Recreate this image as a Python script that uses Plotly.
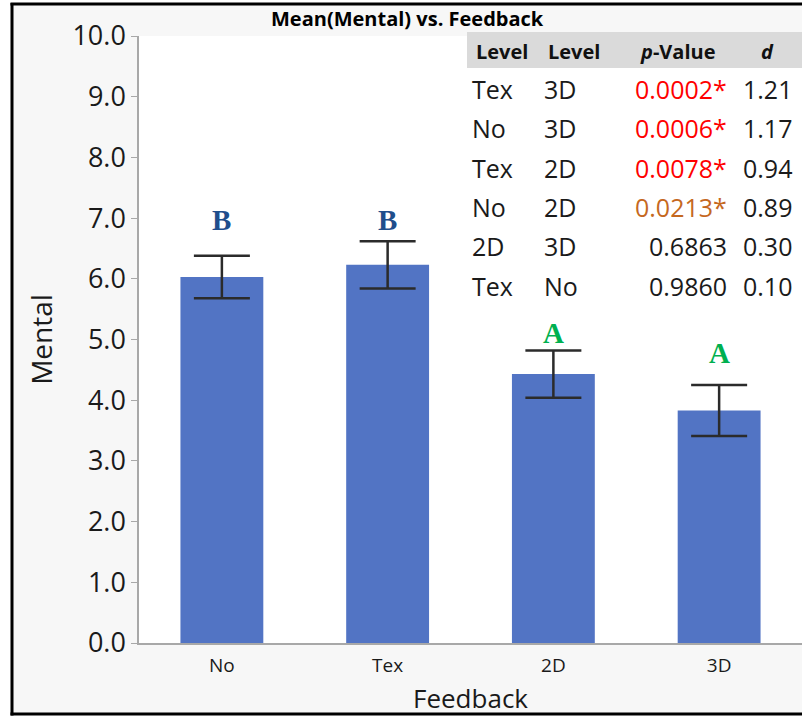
import plotly.graph_objects as go

# ---- data ----
categories = ["No", "Tex", "2D", "3D"]
mean_mental = [6.03, 6.23, 4.43, 3.83]
err_mental = [0.35, 0.39, 0.39, 0.42]
group_letters = ["B", "B", "A", "A"]
letter_y = [6.97, 6.97, 5.11, 4.78]
letter_colors = ["#1F4E8C", "#1F4E8C", "#00B050", "#00B050"]

tbl_level1 = ["Tex", "No", "Tex", "No", "2D", "Tex"]
tbl_level2 = ["3D", "3D", "2D", "2D", "3D", "No"]
tbl_p = [0.0002, 0.0006, 0.0078, 0.0213, 0.6863, 0.9860]
tbl_d = [1.21, 1.17, 0.94, 0.89, 0.30, 0.10]

y_ticks = [0, 1, 2, 3, 4, 5, 6, 7, 8, 9, 10]

# ---- layout geometry (pixels) ----
W, H = 802, 716
L, R, T, B = 139, 802, 36, 643
def px(x):
    return (x - L) / (R - L)
def py(y):
    return (B - y) / (B - T)

FONT = "Open Sans"

fig = go.Figure()
fig.add_trace(go.Bar(
    x=categories, y=mean_mental, width=0.5,
    marker=dict(color="#5274C4", line=dict(width=0)),
    error_y=dict(type="data", array=err_mental, visible=True,
                 color="#2B2B2B", thickness=2.5, width=28),
    showlegend=False, hoverinfo="x+y",
))

def band(x0, x1, y0, y1, color, layer="above"):
    return dict(type="rect", xref="paper", yref="paper", layer=layer,
                x0=px(x0), x1=px(x1), y0=py(y1), y1=py(y0),
                line=dict(width=0), fillcolor=color)

shapes = [
    band(12, 802, 4, 714, "#F7F7F7", "below"),      # outer light grey background
    band(L, 802, T, B, "white", "below"),           # white plot area
    band(10.5, 13.5, 3, 715.5, "black"),            # frame left
    band(10.5, 802, 2.5, 5.5, "black"),             # frame top
    band(10.5, 802, 712.5, 715.5, "black"),         # frame bottom
    band(467, 802, 32, 68, "#DADADA"),              # table header band
]

annotations = []
annotations.append(dict(xref="paper", yref="paper", x=px(407.5), y=py(18),
                        text="<b>Mean(Mental) vs. Feedback</b>", showarrow=False,
                        xanchor="center", yanchor="middle",
                        font=dict(family=FONT, size=20, color="black")))
for c, t, yy, col in zip(categories, group_letters, letter_y, letter_colors):
    annotations.append(dict(x=c, y=yy, xref="x", yref="y", text=f"<b>{t}</b>",
                            showarrow=False, xanchor="center", yanchor="middle",
                            font=dict(family="Liberation Serif", size=29, color=col)))

hdr_y = py(51)
hfont = dict(family=FONT, size=20, color="#111111")
annotations += [
    dict(xref="paper", yref="paper", x=px(474), y=hdr_y, text="<b>Level</b>",
         showarrow=False, xanchor="left", yanchor="middle", font=hfont),
    dict(xref="paper", yref="paper", x=px(546), y=hdr_y, text="<b>Level</b>",
         showarrow=False, xanchor="left", yanchor="middle", font=hfont),
    dict(xref="paper", yref="paper", x=px(717), y=hdr_y, text="<b><i>p</i>-Value</b>",
         showarrow=False, xanchor="right", yanchor="middle", font=hfont),
    dict(xref="paper", yref="paper", x=px(767), y=hdr_y, text="<b><i>d</i></b>",
         showarrow=False, xanchor="center", yanchor="middle", font=hfont),
]
row0, step = 89, 39.3
for i, (a, b_, p, d) in enumerate(zip(tbl_level1, tbl_level2, tbl_p, tbl_d)):
    yy = py(row0 + i * step)
    if p < 0.01:
        pcol = "#FF0000"
    elif p < 0.05:
        pcol = "#C5681E"
    else:
        pcol = "#1A1A1A"
    ptxt = f"{p:.4f}" + ("*" if p < 0.05 else "")
    rfont = dict(family=FONT, size=25, color="#1A1A1A")
    annotations += [
        dict(xref="paper", yref="paper", x=px(470), y=yy, text=a, showarrow=False,
             xanchor="left", yanchor="middle", font=rfont),
        dict(xref="paper", yref="paper", x=px(542), y=yy, text=b_, showarrow=False,
             xanchor="left", yanchor="middle", font=rfont),
        dict(xref="paper", yref="paper", x=px(729), y=yy, text=ptxt, showarrow=False,
             xanchor="right", yanchor="middle",
             font=dict(family=FONT, size=25, color=pcol)),
        dict(xref="paper", yref="paper", x=px(741), y=yy, text=f"{d:.2f}", showarrow=False,
             xanchor="left", yanchor="middle", font=rfont),
    ]

fig.update_layout(
    width=W, height=H,
    margin=dict(l=L, r=W - R, t=T, b=H - B, pad=0),
    paper_bgcolor="white", plot_bgcolor="rgba(0,0,0,0)",
    shapes=shapes, annotations=annotations,
    showlegend=False, bargap=0.5,
    font=dict(family=FONT, color="#1A1A1A"),
)
fig.update_xaxes(
    range=[-0.5, 3.5], showline=True, linecolor="#A8A8A8", linewidth=1.5,
    ticks="outside", ticklen=4, tickcolor="rgba(0,0,0,0)",
    tickfont=dict(family=FONT, size=19, color="#1A1A1A"),
    showgrid=False, zeroline=False,
    title=dict(text="Feedback", font=dict(family=FONT, size=26, color="#1A1A1A"), standoff=14),
)
fig.update_yaxes(
    range=[0, 10], tickvals=y_ticks, tickformat=".1f",
    showline=True, linecolor="#A8A8A8", linewidth=1.5,
    ticks="outside", ticklen=6, tickcolor="#A8A8A8", tickwidth=1.2,
    tickfont=dict(family=FONT, size=27, color="#1A1A1A"),
    showgrid=False, zeroline=False,
    title=dict(text="Mental", font=dict(family=FONT, size=28, color="#1A1A1A"), standoff=12),
)

fig.write_html("out.html", config={"displayModeBar": False},
               post_script="document.documentElement.style.overflow='hidden';document.body.style.margin='0';document.body.style.overflow='hidden';")
